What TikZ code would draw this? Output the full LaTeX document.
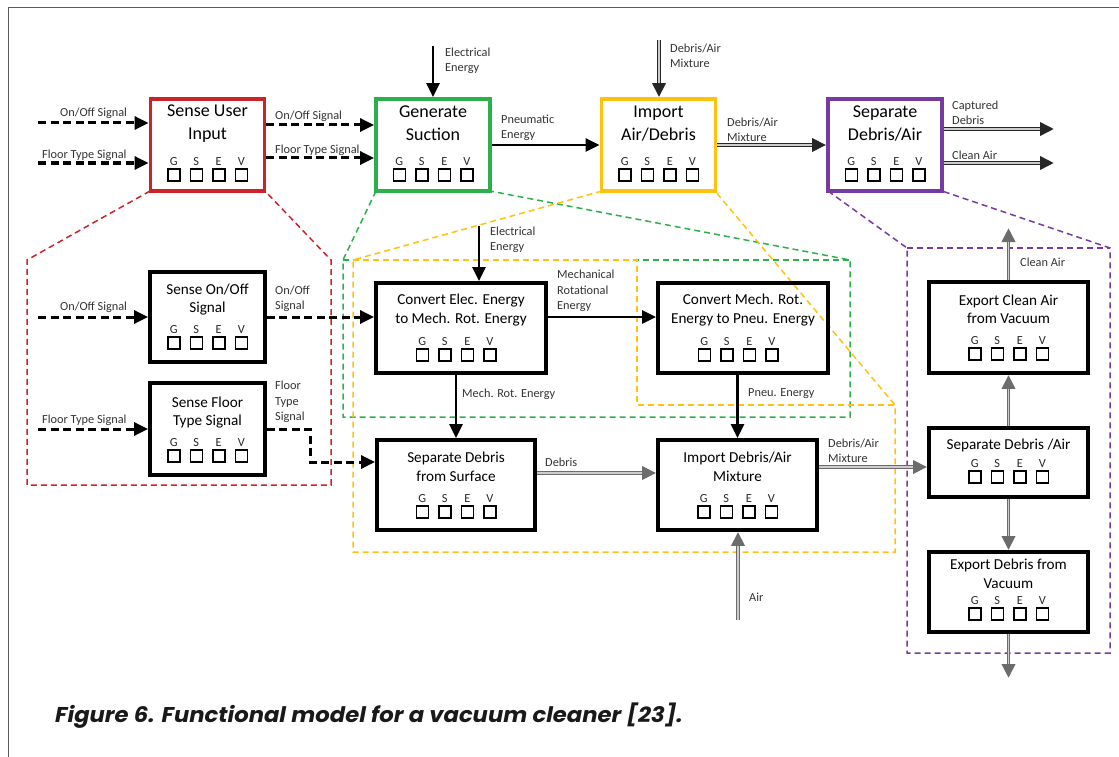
\documentclass[tikz,border=0pt]{standalone}
\usepackage{fontspec}
\setmainfont{Carlito}
\newfontfamily\capfont{Poppins}
\usetikzlibrary{arrows.meta}
\definecolor{cred}{RGB}{204,34,42}
\definecolor{cgreen}{RGB}{44,176,76}
\definecolor{cyellow}{RGB}{255,194,14}
\definecolor{cpurple}{RGB}{118,58,160}
\definecolor{frame}{RGB}{90,90,90}
\begin{document}
\begin{tikzpicture}[x=1pt,y=-1pt,
  topbox/.style={draw=#1, line width=3.8pt, minimum width=114pt, minimum height=92pt, inner sep=0pt},
  fbox/.style={draw, line width=3.8pt, inner sep=0pt},
  ttl/.style={font=\fontsize{18}{23}\selectfont, align=center, inner sep=0pt},
  sttl/.style={font=\fontsize{15.2}{18.5}\selectfont, align=center, inner sep=0pt},
  lbl/.style={font=\fontsize{12.3}{15.3}\selectfont, align=left, anchor=west, inner sep=0pt, text=black!80},
  tip/.style={-{Triangle[length=14pt,width=13pt]}},
  sig/.style={tip, line width=3pt, dash pattern=on 8pt off 4.5pt},
  nrg/.style={tip, line width=2.8pt},
  matl/.style={tip, line width=3.8pt, draw=#1, postaction={draw=black!20, line width=1.1pt, shorten >=14pt, -}},
  matl/.default=black!85,
  region/.style={draw=#1, line width=1.5pt, dash pattern=on 6pt off 4pt},
  gsev/.pic={
    \foreach \l [count=\i] in {G,S,E,V}{
      \node[font=\fontsize{12.3}{12}\selectfont, inner sep=0pt, text=black!85] (-\l) at ({(\i-2.5)*22.5},0) {\l};
      \draw[line width=1.5pt] ({(\i-2.5)*22.5-6},7) rectangle ({(\i-2.5)*22.5+6},19);
    }}
]
\useasboundingbox (0,0) rectangle (1119,757);
% page frame
\draw[frame, line width=1pt] (1119,8) -- (8,8) -- (8,757);

% ---------------- dashed regions ----------------
\draw[region=cred] (150,191) -- (27,260) -- (27,485) -- (331,485) -- (331,260) -- (265,191);
\draw[region=cgreen] (376,191) -- (343,260) -- (343,417) -- (850,417) -- (850,260) -- (490,191);
\draw[region=cgreen] (343,260) -- (850,260);
\draw[region=cyellow] (602,191) -- (353,260) -- (353,552) -- (895,552) -- (895,405) -- (715,191);
\draw[region=cyellow] (353,260) -- (637,260) -- (637,405) -- (895,405);
\draw[region=cpurple] (828,191) -- (907,248) -- (907,653) -- (1110,653) -- (1110,248) -- (942,191);
\draw[region=cpurple] (907,248) -- (1110,248);

% ---------------- top row ----------------
\node[topbox=cred] (sui) at (207.5,145) {};
\node[topbox=cgreen] (gsu) at (433,145) {};
\node[topbox=cyellow] (iad) at (658.5,145) {};
\node[topbox=cpurple] (sda) at (885,145) {};
\node[ttl] (sui-t) at (207.5,123.5) {Sense User\\Input};
\node[ttl] (gsu-t) at (433,123.5) {Generate\\Suction};
\node[ttl] (iad-t) at (658.5,123.5) {Import\\Air/Debris};
\node[ttl] (sda-t) at (885,123.5) {Separate\\Debris/Air};
\pic (sui-g) at (207.5,162) {gsev};
\pic (gsu-g) at (433,162) {gsev};
\pic (iad-g) at (658.5,162) {gsev};
\pic (sda-g) at (885,162) {gsev};

\coordinate (in1) at (38,123);
\coordinate (in2) at (38,163);
\coordinate (ee1) at (433,46);
\coordinate (dam) at (659,40);
\coordinate (cap) at (1054,129);
\coordinate (cla) at (1054,163);
\draw[sig] (in1) -- (in1 -| sui.west);
\draw[sig] (in2) -- (in2 -| sui.west);
\draw[sig] (sui.east |- 0,125) -- (gsu.west |- 0,125);
\draw[sig] (sui.east |- 0,158) -- (gsu.west |- 0,158);
\draw[nrg] (ee1) -- (gsu.north);
\draw[nrg] (gsu.east) -- (iad.west);
\draw[matl] (dam) -- (dam |- iad.north);
\draw[matl] (iad.east) -- (sda.west);
\draw[matl] (sda.east |- cap) -- (cap);
\draw[matl] (sda.east |- cla) -- (cla);

\node[lbl] (l1) at (60,113) {On/Off Signal};
\node[lbl] (l2) at (42,155) {Floor Type Signal};
\node[lbl] (l3) at (275,116) {On/Off Signal};
\node[lbl] (l4) at (275,150) {Floor Type Signal};
\node[lbl] (l5) at (445,61) {Electrical\\Energy};
\node[lbl] (l6) at (501,128) {Pneumatic\\Energy};
\node[lbl] (l7) at (670,56) {Debris/Air\\Mixture};
\node[lbl] (l8) at (727,129.5) {Debris/Air\\Mixture};
\node[lbl] (l9) at (952,112.5) {Captured\\Debris};
\node[lbl] (l10) at (952,155) {Clean Air};

% ---------------- lower row ----------------
\node[fbox, minimum width=115pt, minimum height=90pt] (soo) at (207.5,317) {};
\node[fbox, minimum width=115pt, minimum height=92pt] (sft) at (207.5,429) {};
\node[fbox, minimum width=170pt, minimum height=90pt] (cee) at (461,328) {};
\node[fbox, minimum width=170pt, minimum height=90pt] (cmr) at (743,328) {};
\node[fbox, minimum width=158pt, minimum height=90pt] (sds) at (456,485) {};
\node[fbox, minimum width=159pt, minimum height=90pt] (ida) at (737.5,485) {};
\node[fbox, minimum width=159pt, minimum height=91pt] (eca) at (1008.5,327.5) {};
\node[fbox, minimum width=159pt, minimum height=69pt] (sdb) at (1008.5,462.5) {};
\node[fbox, minimum width=159pt, minimum height=80pt] (edv) at (1008.5,592) {};

\node[sttl] (soo-t) at (207.5,299.5) {Sense On/Off\\Signal};
\node[sttl] (sft-t) at (207.5,412.5) {Sense Floor\\Type Signal};
\node[sttl] (cee-t) at (461,310) {Convert Elec. Energy\\to Mech. Rot. Energy};
\node[sttl] (cmr-t) at (743,310) {Convert Mech. Rot.\\Energy to Pneu. Energy};
\node[sttl] (sds-t) at (456,467) {Separate Debris\\from Surface};
\node[sttl] (ida-t) at (737.5,467) {Import Debris/Air\\Mixture};
\node[sttl] (eca-t) at (1008.5,309.5) {Export Clean Air\\from Vacuum};
\node[sttl] (sdb-t) at (1008.5,445) {Separate Debris /Air};
\node[sttl] (edv-t) at (1008.5,574) {Export Debris from\\Vacuum};

\pic (soo-g) at (207.5,330) {gsev};
\pic (sft-g) at (207.5,443) {gsev};
\pic (cee-g) at (456,342) {gsev};
\pic (cmr-g) at (738,342) {gsev};
\pic (sds-g) at (456,499) {gsev};
\pic (ida-g) at (737.5,499) {gsev};
\pic (eca-g) at (1008.5,341) {gsev};
\pic (sdb-g) at (1008.5,464) {gsev};
\pic (edv-g) at (1008.5,601) {gsev};

\coordinate (in3) at (38,317);
\coordinate (in4) at (38,429);
\coordinate (ee2) at (479,226);
\coordinate (bend1) at (310,429);
\coordinate (bend2) at (310,462);
\coordinate (air) at (738,620);
\coordinate (cout) at (1008.5,228);
\coordinate (dout) at (1008.5,678);

\draw[sig] (in3) -- (soo.west);
\draw[sig] (in4) -- (sft.west);
\draw[sig] (soo.east) -- (soo.east -| cee.west);
\draw[sig] (sft.east) -- (bend1) -- (bend2) -- (bend2 -| sds.west);
\draw[nrg] (ee2) -- (ee2 |- cee.north);
\draw[nrg] (cee.east |- 0,317) -- (cmr.west |- 0,317);
\draw[nrg] (cee.south -| sds.north) -- (sds.north);
\draw[nrg] (cmr.south -| ida.north) -- (ida.north);
\draw[matl=gray!85!black] (sds.east |- 0,473) -- (ida.west |- 0,473);
\draw[matl=gray!85!black] (ida.east |- 0,467) -- (sdb.west |- 0,467);
\draw[matl=gray!85!black] (air) -- (air |- ida.south);
\draw[matl=gray!85!black] (sdb.north) -- (eca.south);
\draw[matl=gray!85!black] (eca.north) -- (cout);
\draw[matl=gray!85!black] (sdb.south) -- (edv.north);
\draw[matl=gray!85!black] (edv.south) -- (dout);

\node[lbl] (m1) at (60,307) {On/Off Signal};
\node[lbl] (m2) at (42,420) {Floor Type Signal};
\node[lbl] (m3) at (275,299) {On/Off\\Signal};
\node[lbl] (m4) at (275,402) {Floor\\Type\\Signal};
\node[lbl] (m5) at (490,239.5) {Electrical\\Energy};
\node[lbl] (m6) at (557,291) {Mechanical\\Rotational\\Energy};
\node[lbl] (m7) at (462,394) {Mech. Rot. Energy};
\node[lbl] (m8) at (748,394) {Pneu. Energy};
\node[lbl] (m9) at (545,462) {Debris};
\node[lbl] (m10) at (828,450.5) {Debris/Air\\Mixture};
\node[lbl] (m11) at (749,597) {Air};
\node[lbl] (m12) at (1020,262) {Clean Air};

% caption
\node[anchor=west, inner sep=0pt, text=black!90, font=\capfont\bfseries\itshape\fontsize{21.4}{22}\selectfont] (cap-t) at (55,716) {\scalebox{1.06}[1]{Figure 6. Functional model for a vacuum cleaner [23].}};
\end{tikzpicture}
\end{document}
